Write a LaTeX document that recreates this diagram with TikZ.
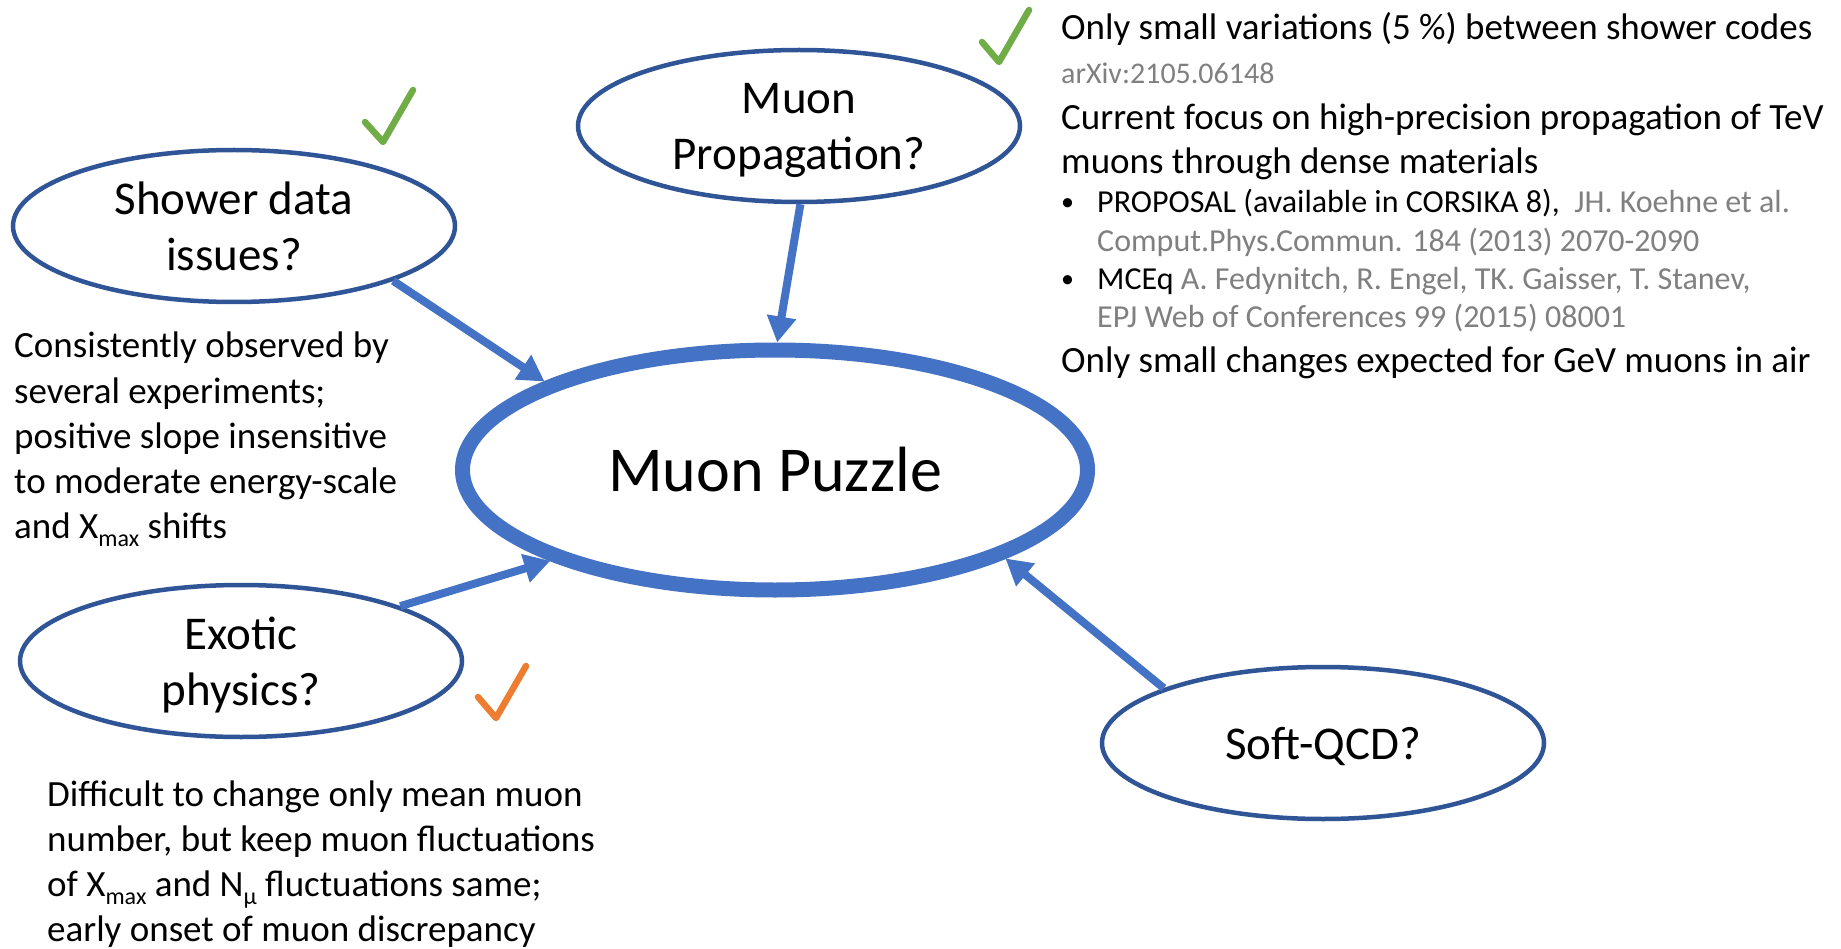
\documentclass[tikz,border=0pt]{standalone}
\usepackage{fontspec}
\setmainfont{Carlito}
\usetikzlibrary{arrows.meta,shapes.geometric}
\definecolor{ellblue}{HTML}{2F5597}
\definecolor{arrblue}{HTML}{4472C4}
\definecolor{chkgreen}{HTML}{70AD47}
\definecolor{chkorange}{HTML}{ED7D31}
\definecolor{refgray}{HTML}{808080}
\newcommand{\lowtxt}[1]{\raisebox{-8pt}{\fontsize{24}{24}\selectfont #1}}
\newcommand{\bulletmark}{\makebox[36pt][l]{\raisebox{2pt}{\fontsize{26}{26}\selectfont •}}}
\begin{document}
\begin{tikzpicture}[x=1pt,y=-1pt,
  qell/.style={ellipse, draw=ellblue, line width=4.5pt, minimum width=442pt, minimum height=152pt, inner sep=0pt, align=center, text depth=0pt, font=\fontsize{47}{56}\selectfont},
  mainell/.style={ellipse, draw=arrblue, line width=15pt, minimum width=625pt, minimum height=240pt, inner sep=0pt, font=\fontsize{64}{70}\selectfont},
  conn/.style={draw=arrblue, line width=8pt, -{Triangle[length=26pt,width=28pt]}},
  bigtxt/.style={anchor=base west, inner sep=0pt, font=\fontsize{37}{45}\selectfont},
  smtxt/.style={anchor=base west, inner sep=0pt, font=\fontsize{32}{38}\selectfont},
  reftxt/.style={anchor=base west, inner sep=0pt, text=refgray, font=\fontsize{30}{36}\selectfont},
  chk/.style={line width=6.5pt, line cap=round, line join=round}
]
\fill[white] (0,0) rectangle (1841,949);
\useasboundingbox (0,0) rectangle (1841,949);

\node[mainell] (puzzle) at (775,470) {Muon Puzzle};
\node[qell] (shower) at (234,226) {Shower data\\issues?};
\node[qell] (prop) at (799,126) {Muon\\Propagation?};
\node[qell] (exotic) at (241,661) {Exotic\\physics?};
\node[qell] (soft) at (1323,743) {Soft-QCD?};

\draw[conn] (shower.-19) -- (puzzle.159);
\draw[conn] (prop.-89) -- (puzzle.89);
\draw[conn] (exotic.19) -- (puzzle.202);
\draw[conn] (soft.161) -- (puzzle.-21);

\draw[chk, chkgreen] (365,122) -- (383,142) -- (413,90);
\draw[chk, chkgreen] (982,42) -- (999,62) -- (1029,10);
\draw[chk, chkorange] (478,697) -- (496,718) -- (526,666);

\node[bigtxt] (l1) at (14,358) {Consistently observed by};
\node[bigtxt] (l2) at (14,403) {several experiments;};
\node[bigtxt] (l3) at (14,448) {positive slope insensitive};
\node[bigtxt] (l4) at (14,493) {to moderate energy-scale};
\node[bigtxt] (l5) at (14,538) {and X\lowtxt{max} shifts};

\node[bigtxt] (b1) at (47,806) {Difficult to change only mean muon};
\node[bigtxt] (b2) at (47,851) {number, but keep muon fluctuations};
\node[bigtxt] (b3) at (47,896) {of X\lowtxt{max} and N\lowtxt{µ} fluctuations same;};
\node[bigtxt] (b4) at (47,941) {early onset of muon discrepancy};

\node[bigtxt] (r1) at (1061,40) {Only small variations (5 \%) between shower codes};
\node[reftxt] (r2) at (1061,84) {arXiv:2105.06148};
\node[bigtxt] (r3) at (1061,130) {Current focus on high-precision propagation of TeV};
\node[bigtxt] (r4) at (1061,174) {muons through dense materials};
\node[smtxt] (r5) at (1061,213) {\bulletmark PROPOSAL (available in CORSIKA 8),\ \ \textcolor{refgray}{JH. Koehne et al.}};
\node[smtxt, text=refgray] (r6) at (1097,252) {Comput.Phys.Commun. 184 (2013) 2070-2090};
\node[smtxt] (r7) at (1061,290) {\bulletmark MCEq \textcolor{refgray}{A. Fedynitch, R. Engel, TK. Gaisser, T. Stanev,}};
\node[smtxt, text=refgray] (r8) at (1097,328) {EPJ Web of Conferences 99 (2015) 08001};
\node[bigtxt] (r9) at (1061,372) {Only small changes expected for GeV muons in air};
\end{tikzpicture}
\end{document}
